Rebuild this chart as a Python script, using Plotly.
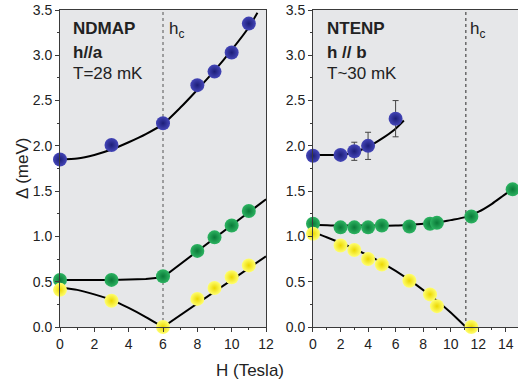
import plotly.graph_objects as go

# ---------------- data ----------------
# Left panel: NDMAP, h//a
ndmap_H_blue = [0, 3, 6, 8, 9, 10, 11]
ndmap_D_blue = [1.85, 2.01, 2.25, 2.67, 2.82, 3.03, 3.35]
ndmap_H_green = [0, 3, 6, 8, 9, 10, 11]
ndmap_D_green = [0.52, 0.52, 0.56, 0.84, 0.99, 1.12, 1.28]
ndmap_H_yellow = [0, 3, 6, 8, 9, 10, 11]
ndmap_D_yellow = [0.41, 0.29, 0.0, 0.31, 0.43, 0.55, 0.68]

ndmap_fit_blue_H = [0, 1, 2, 3, 4, 5, 6, 7, 8, 9, 10, 11, 11.5]
ndmap_fit_blue_D = [1.85, 1.86, 1.90, 1.96, 2.04, 2.13, 2.24, 2.42, 2.62, 2.83, 3.06, 3.31, 3.47]
ndmap_fit_green_H = [0, 3, 5, 6, 12]
ndmap_fit_green_D = [0.52, 0.52, 0.53, 0.55, 1.41]
ndmap_fit_yellow_H = [0, 1, 2, 3, 4, 5, 6, 12]
ndmap_fit_yellow_D = [0.44, 0.41, 0.36, 0.30, 0.21, 0.11, 0.0, 0.78]
hc_left = 6

# Right panel: NTENP, h // b
ntenp_H_blue = [0, 2, 3, 4, 6]
ntenp_D_blue = [1.89, 1.90, 1.94, 2.00, 2.30]
ntenp_E_blue = [0.0, 0.0, 0.10, 0.15, 0.20]
ntenp_H_green = [0, 2, 3, 4, 5, 7, 8.5, 9, 11.5, 14.5]
ntenp_D_green = [1.14, 1.10, 1.10, 1.10, 1.12, 1.11, 1.14, 1.15, 1.22, 1.52]
ntenp_H_yellow = [0, 2, 3, 4, 5, 7, 8.5, 9, 11.5]
ntenp_D_yellow = [1.03, 0.90, 0.85, 0.75, 0.69, 0.51, 0.36, 0.23, 0.0]

ntenp_fit_blue_H = [0, 1, 2, 3, 4, 5, 6, 6.6]
ntenp_fit_blue_D = [1.90, 1.90, 1.90, 1.93, 1.99, 2.08, 2.19, 2.28]
ntenp_fit_green_H = [0, 2, 4, 6, 8, 9, 10, 11, 12, 13, 14, 14.5]
ntenp_fit_green_D = [1.13, 1.12, 1.12, 1.12, 1.14, 1.15, 1.18, 1.21, 1.27, 1.36, 1.47, 1.52]
ntenp_fit_yellow_H = [0, 2, 4, 5, 7, 8.5, 9, 10, 11.1]
ntenp_fit_yellow_D = [1.05, 0.93, 0.79, 0.71, 0.52, 0.35, 0.29, 0.16, 0.0]
hc_right = 11.1

y_ticks = [0.0, 0.5, 1.0, 1.5, 2.0, 2.5, 3.0, 3.5]

# ---------------- styling ----------------
BLUE = ("#4446b8", "#1c1e78")
GREEN = ("#2db462", "#0a7a38")
YELLOW = ("#ffff70", "#ecd800")
FONT = "Liberation Sans, Arial, sans-serif"
AX = "#3a3a3a"

fig = go.Figure()


def line(x, y, xa, ya, shape="spline"):
    fig.add_trace(go.Scatter(x=x, y=y, mode="lines", xaxis=xa, yaxis=ya,
                             line=dict(color="black", width=2, shape=shape, smoothing=0.6),
                             showlegend=False, hoverinfo="skip", cliponaxis=True))


def pts(x, y, col, xa, ya, err=None):
    kw = {}
    if err is not None:
        kw["error_y"] = dict(type="data", array=err, visible=True, color="#444",
                             thickness=1, width=3)
    fig.add_trace(go.Scatter(x=x, y=y, mode="markers", xaxis=xa, yaxis=ya,
                             marker=dict(size=14, color=col[0],
                                         gradient=dict(type="radial", color=col[1]),
                                         line=dict(width=0)),
                             showlegend=False, cliponaxis=False, **kw))


# left
line(ndmap_fit_blue_H, ndmap_fit_blue_D, "x", "y")
line(ndmap_fit_green_H, ndmap_fit_green_D, "x", "y", shape="linear")
line(ndmap_fit_yellow_H[:7], ndmap_fit_yellow_D[:7], "x", "y")
line(ndmap_fit_yellow_H[6:], ndmap_fit_yellow_D[6:], "x", "y", shape="linear")
pts(ndmap_H_blue, ndmap_D_blue, BLUE, "x", "y")
pts(ndmap_H_green, ndmap_D_green, GREEN, "x", "y")
pts(ndmap_H_yellow, ndmap_D_yellow, YELLOW, "x", "y")
# right
line(ntenp_fit_blue_H, ntenp_fit_blue_D, "x2", "y2")
line(ntenp_fit_green_H, ntenp_fit_green_D, "x2", "y2")
line(ntenp_fit_yellow_H, ntenp_fit_yellow_D, "x2", "y2")
pts(ntenp_H_blue, ntenp_D_blue, BLUE, "x2", "y2", err=ntenp_E_blue)
pts(ntenp_H_green, ntenp_D_green, GREEN, "x2", "y2")
pts(ntenp_H_yellow, ntenp_D_yellow, YELLOW, "x2", "y2")

common_x = dict(showgrid=False, zeroline=False, showline=True, linecolor=AX, linewidth=1,
                ticks="outside", ticklen=4, tickcolor=AX, dtick=2, tick0=0, automargin=False,
                minor=dict(ticks="outside", ticklen=2, dtick=1, tickcolor=AX),
                tickfont=dict(family=FONT, size=14, color="#222"), mirror=True)
common_y = dict(showgrid=False, zeroline=False, showline=True, linecolor=AX, linewidth=1,
                ticks="outside", ticklen=4, tickcolor=AX, tickvals=y_ticks, automargin=False,
                ticktext=[f"{v:.1f}" for v in y_ticks], range=[0, 3.5],
                minor=dict(ticks="outside", ticklen=2, dtick=0.25, tick0=0, tickcolor=AX),
                tickfont=dict(family=FONT, size=14, color="#222"))

fig.update_layout(
    width=518, height=387,
    margin=dict(l=60, r=0, t=10, b=60),
    paper_bgcolor="white", plot_bgcolor="#e6e7e9",
    font=dict(family=FONT, color="#222"),
    xaxis=dict(domain=[0, 0.4498], range=[0, 12], **common_x),
    yaxis=dict(anchor="x", mirror=True, **common_y),
    xaxis2=dict(domain=[0.5524, 1.0], range=[0, 14.89], anchor="y2", **common_x),
    yaxis2=dict(anchor="x2", mirror=False, **common_y),
)

# vertical hc lines
fig.add_shape(type="line", xref="x", yref="y domain", x0=hc_left, x1=hc_left, y0=0, y1=1,
              line=dict(color="#555", width=1, dash="dot"), layer="below")
fig.add_shape(type="line", xref="x2", yref="y2 domain", x0=hc_right, x1=hc_right, y0=0, y1=1,
              line=dict(color="#555", width=1.3, dash="dot"), layer="below")


def txt(text, xref, x, y, size=17, xanchor="left"):
    fig.add_annotation(text=text, xref=xref, yref="paper", x=x, y=y, xanchor=xanchor,
                       yanchor="middle", showarrow=False,
                       font=dict(family=FONT, size=size, color="#222"))


def py(p):
    return 1 - (p - 10) / 317.0


txt("<b>NDMAP</b>", "x domain", 0.055, py(29))
txt("<b>h//a</b>", "x domain", 0.055, py(52))
txt("T=28 mK", "x domain", 0.055, py(74))
txt("h<sub>c</sub>", "x domain", 0.52, py(30))

txt("<b>NTENP</b>", "x2 domain", 0.06, py(29))
txt("<b>h // b</b>", "x2 domain", 0.06, py(52))
txt("T~30 mK", "x2 domain", 0.06, py(74))
txt("h<sub>c</sub>", "x2 domain", 0.755, py(30))

fig.add_annotation(text="Δ (meV)", xref="paper", yref="paper", x=-0.083, y=py(168),
                   textangle=-90, showarrow=False, xanchor="center", yanchor="middle",
                   font=dict(family=FONT, size=17, color="#222"))
fig.add_annotation(text="H (Tesla)", xref="paper", yref="paper", x=(250 - 60) / 458.0,
                   y=-(370 - 327) / 317.0, showarrow=False, xanchor="center", yanchor="middle",
                   font=dict(family=FONT, size=17, color="#222"))

fig.write_html("out.html", config={"displayModeBar": False},
               post_script="document.body.style.margin='0';document.body.style.overflow='hidden';")
